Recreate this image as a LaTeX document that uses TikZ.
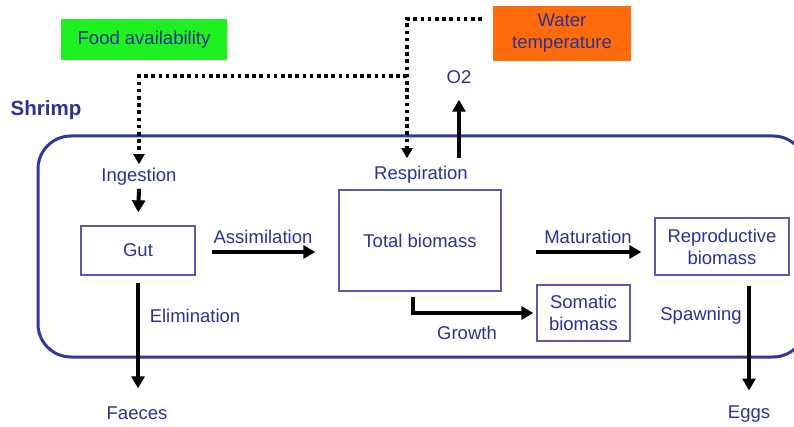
\documentclass[tikz,border=0pt]{standalone}
\usepackage{fontspec}
\setmainfont{Liberation Sans}
\usetikzlibrary{arrows.meta}
\definecolor{navy}{HTML}{2E3192}
\definecolor{frame}{HTML}{35359A}
\definecolor{boxline}{HTML}{5A5AAA}
\definecolor{fgreen}{HTML}{1FF01F}
\definecolor{worange}{HTML}{FF6A0A}
\begin{document}
\begin{tikzpicture}[x=1pt,y=-1pt,
  lbl/.style={text=navy, font=\fontsize{18.5}{22}\selectfont, inner sep=0pt, align=center},
  pbox/.style={lbl, draw=boxline, line width=1.3pt},
  arr/.style={line width=4pt, -{Triangle[width=13pt,length=12pt]}},
  dotarr/.style={line width=3.6pt, dash pattern=on 3.6pt off 3.6pt, -{Triangle[width=11pt,length=10pt]}}]
\useasboundingbox (0,0) rectangle (794,427);
\fill[white] (0,0) rectangle (794,427);

% influence boxes
\node[lbl, fill=fgreen, minimum width=166pt, minimum height=41pt] (food) at (144,39.5) {Food availability};
\node[lbl, fill=worange, minimum width=138pt, minimum height=55pt] (water) at (562,33.5) {Water\\temperature};

% shrimp frame
\node[text=navy, font=\fontsize{20.5}{24}\selectfont\bfseries, inner sep=0pt] (shrimp) at (46,110) {Shrimp};
\draw[frame, line width=3pt, rounded corners=33pt] (38,136) rectangle (806,357);

% labels
\node[lbl] (ingestion) at (139,177) {Ingestion};
\node[lbl] (respiration) at (421,175) {Respiration};
\node[lbl] (o2) at (459,77) {O2};
\node[lbl] (assim) at (263,237) {Assimilation};
\node[lbl] (matur) at (588,237) {Maturation};
\node[lbl] (growth) at (467,333) {Growth};
\node[lbl] (elim) at (195,316) {Elimination};
\node[lbl] (spawn) at (701,316) {Spawning};
\node[lbl] (faeces) at (137,413) {Faeces};
\node[lbl] (eggs) at (749,414) {Eggs};

% compartments
\node[pbox, minimum width=114pt, minimum height=49pt] (gut) at (138,250.5) {Gut};
\node[pbox, minimum width=162pt, minimum height=101pt] (total) at (420,240.5) {Total biomass};
\node[pbox, minimum width=134pt, minimum height=57pt] (repro) at (722,246.5) {Reproductive\\biomass};
\node[pbox, minimum width=93pt, minimum height=56pt] (somatic) at (583.5,313) {Somatic\\biomass};

% helper coordinates
\coordinate (c1) at (407,19);
\coordinate (c2) at (407,76);
\coordinate (mlevel) at (0,252);
\coordinate (gx) at (413,0);

% dotted influences
\draw[dotarr, shorten <=11pt, shorten >=8pt] (water.west |- c1) -- (c1) -- (c1 |- respiration.north);
\draw[dotarr, shorten >=4pt] (c2) -| (ingestion.north);

% fluxes
\draw[arr, shorten <=3pt, shorten >=13pt] (ingestion.south) -- (gut.north);
\draw[arr, shorten <=16pt, shorten >=23pt] (gut.east |- mlevel) -- (total.west |- mlevel);
\draw[arr, shorten <=34pt, shorten >=13pt] (total.east |- mlevel) -- (repro.west |- mlevel);
\draw[arr, shorten <=7pt, shorten >=18pt] (gut.south) -- (gut.south |- faeces.north);
\draw[arr, shorten <=10pt, shorten >=15pt] (eggs.north |- repro.south) -- (eggs.north);
\draw[arr, shorten <=5pt, shorten >=3pt] (gx |- total.south) |- (somatic.west);
\draw[arr, shorten <=8pt, shorten >=16pt] (o2.south |- respiration.north) -- (o2.south);
\end{tikzpicture}
\end{document}
